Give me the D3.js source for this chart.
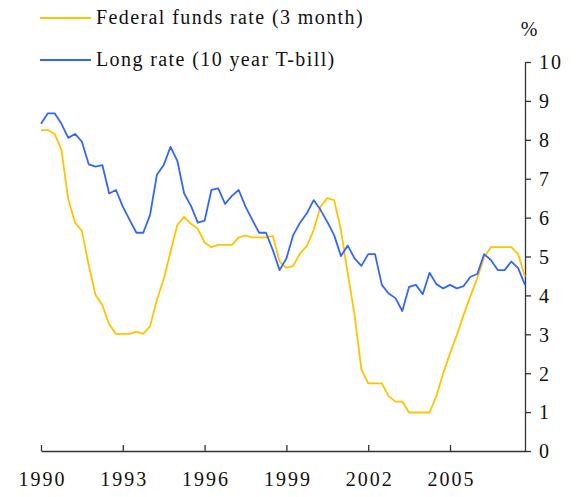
<!DOCTYPE html>
<html lang="en">
<head>
  <meta charset="UTF-8">
  <title>Federal funds rate vs long rate</title>
  <script src="https://d3js.org/d3.v7.min.js"></script>
  <style type="text/css">
    body { margin: 0; background: #fff; }
    .texto { font-family: "Liberation Serif", "Times New Roman", serif; font-size: 20px; fill: #111; letter-spacing: 2px; }
    .legenda { letter-spacing: 1.4px; }
  </style>
</head>
<body>
<svg id="grafico"></svg>

<script>
  // quarterly data, 1990Q1 .. 2007Q4
  const startYear = 1990;
  const fedFunds = [
    8.25, 8.25, 8.15, 7.74, 6.47, 5.87, 5.66, 4.78, 4.01, 3.75, 3.26, 3.01,
    3.01, 3.01, 3.07, 3.01, 3.21, 3.88, 4.42, 5.12, 5.81, 6.02, 5.84, 5.71,
    5.36, 5.24, 5.30, 5.30, 5.30, 5.49, 5.54, 5.49, 5.49, 5.49, 5.53, 4.87,
    4.71, 4.76, 5.08, 5.27, 5.68, 6.28, 6.50, 6.45, 5.68, 4.57, 3.50, 2.10,
    1.74, 1.74, 1.74, 1.41, 1.27, 1.27, 0.99, 0.99, 0.99, 0.99, 1.41, 2.00,
    2.51, 2.98, 3.50, 3.98, 4.44, 4.98, 5.24, 5.24, 5.24, 5.24, 5.06, 4.48
  ];
  const longRate = [
    8.41, 8.68, 8.68, 8.41, 8.05, 8.15, 7.95, 7.37, 7.31, 7.35, 6.62, 6.71,
    6.28, 5.94, 5.61, 5.61, 6.07, 7.10, 7.35, 7.82, 7.46, 6.62, 6.30, 5.87,
    5.92, 6.71, 6.75, 6.35, 6.56, 6.71, 6.28, 5.94, 5.61, 5.61, 5.17, 4.65,
    4.95, 5.55, 5.87, 6.11, 6.45, 6.20, 5.89, 5.55, 5.01, 5.28, 4.95, 4.76,
    5.06, 5.06, 4.27, 4.05, 3.93, 3.60, 4.22, 4.27, 4.03, 4.58, 4.29, 4.18,
    4.27, 4.18, 4.24, 4.48, 4.55, 5.06, 4.91, 4.65, 4.65, 4.87, 4.70, 4.27
  ];
  const xTicks = [1990, 1993, 1996, 1999, 2002, 2005];
  const yTicks = [0, 1, 2, 3, 4, 5, 6, 7, 8, 9, 10];
  const seriesNames = ["Federal funds rate (3 month)", "Long rate (10 year T-bill)"];
  const seriesColors = ["#ffc400", "#3366ff"];

  const largura = 583, altura = 497;
  const margem = { topo: 62, direita: 58, inferior: 46, esquerda: 41 };

  const svg = d3.select("#grafico")
      .attr("width", largura)
      .attr("height", altura);

  const escalaX = d3.scaleLinear()
      .domain([startYear, startYear + 17.75])
      .range([margem.esquerda, largura - margem.direita]);

  const escalaY = d3.scaleLinear()
      .domain([0, 10])
      .range([altura - margem.inferior, margem.topo]);

  const eixoCor = "#333";
  const x0 = altura - margem.inferior;
  const xr = largura - margem.direita;

  // eixo X (ticks para cima)
  const eixoX = svg.append("g")
      .attr("transform", `translate(0, ${x0})`)
      .call(d3.axisBottom(escalaX).tickValues(xTicks).tickSizeInner(-6).tickSizeOuter(0).tickFormat(d3.format("d")));
  eixoX.select(".domain").attr("stroke", eixoCor).attr("stroke-width", 1.3);
  eixoX.selectAll(".tick line").attr("stroke", eixoCor).attr("stroke-width", 1.3);
  eixoX.selectAll(".tick text").attr("class", "texto").attr("dy", null).attr("y", 35).attr("dx", 1);

  // eixo Y à direita
  const eixoY = svg.append("g")
      .attr("transform", `translate(${xr}, 0)`)
      .call(d3.axisRight(escalaY).tickValues(yTicks).tickSize(6).tickSizeOuter(0));
  eixoY.select(".domain").attr("stroke", eixoCor).attr("stroke-width", 1.3);
  eixoY.selectAll(".tick text").attr("class", "texto").attr("x", 14).attr("dy", "0.34em");
  eixoY.selectAll(".tick line").attr("stroke", eixoCor).attr("stroke-width", 1.3);

  svg.append("text").attr("class", "texto")
      .attr("x", xr + 5).attr("y", 36)
      .attr("text-anchor", "middle")
      .text("%");

  // linhas
  const linha = d3.line()
      .x((d, i) => escalaX(startYear + i / 4))
      .y(d => escalaY(d));

  [fedFunds, longRate].forEach(function(serie, k) {
    svg.append("path")
        .datum(serie)
        .attr("fill", "none")
        .attr("stroke", seriesColors[k])
        .attr("stroke-width", 1.8)
        .attr("stroke-linejoin", "round")
        .attr("d", linha);
  });

  // legenda
  seriesNames.forEach(function(nome, k) {
    const ly = 18 + k * 42;
    svg.append("line")
        .attr("x1", 40).attr("x2", 91)
        .attr("y1", ly).attr("y2", ly)
        .attr("stroke", seriesColors[k])
        .attr("stroke-width", 1.8);
    svg.append("text").attr("class", "texto legenda")
        .attr("x", 96).attr("y", ly + 6)
        .text(nome);
  });
</script>
</body>
</html>
